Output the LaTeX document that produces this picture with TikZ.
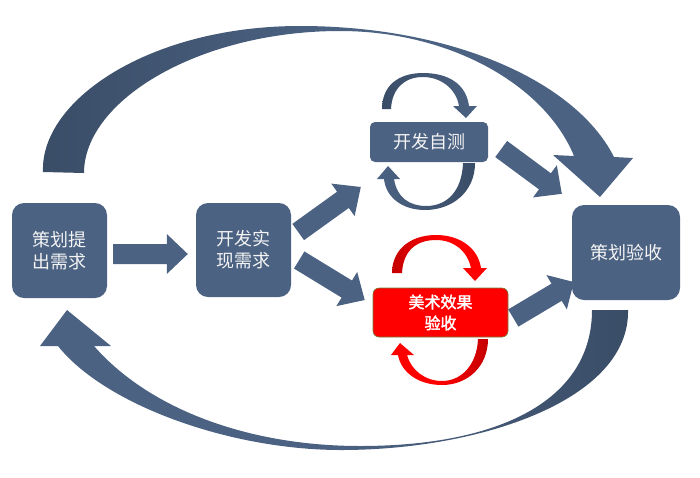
\documentclass[tikz,border=0pt]{standalone}
\usepackage{fontspec}
\setmainfont{Noto Sans CJK SC}[AutoFakeBold=2]
\usetikzlibrary{calc}
\definecolor{boxblue}{HTML}{4B6282}
\definecolor{darkblue}{HTML}{3A4D67}
\definecolor{txtwhite}{HTML}{F4F4F4}
\definecolor{redbox}{HTML}{FF0000}
\definecolor{darkred}{HTML}{C40000}
\definecolor{boxedge}{HTML}{76803C}
\newcommand\blkarrow[6][]{%
  \coordinate (bq) at ($(#3)!#6!(#2)$);
  \fill[#1] ($(#2)!#4!90:(#3)$) -- ($(bq)!#4!90:(#3)$) -- ($(bq)!#5!90:(#3)$) -- (#3)
    -- ($(bq)!#5!-90:(#3)$) -- ($(bq)!#4!-90:(#3)$) -- ($(#2)!#4!-90:(#3)$) -- cycle;}
\begin{document}
\begin{tikzpicture}[x=1pt, y=-1pt,
  box/.style={rounded corners=12pt, fill=boxblue, text=txtwhite,
    font=\fontsize{18}{22}\selectfont, align=center, inner sep=0pt},
  barrow/.style={fill=boxblue}]
\useasboundingbox (0,0) rectangle (700,477);

% big top curved arrow
\shade[left color=darkblue, right color=boxblue, middle color=boxblue]
 (43,172) .. controls (40,100) and (150,26) .. (300,26)
 .. controls (450,26) and (575,80) .. (614,157)
 -- (633,158) -- (600,197) -- (553,155) -- (574,156)
 .. controls (545,85) and (450,31) .. (340,31)
 .. controls (200,31) and (84,100) .. (84,173) -- cycle;

% big bottom curved arrow
\shade[left color=boxblue, right color=darkblue, middle color=boxblue]
 (628,310) .. controls (630,400) and (480,450) .. (341,450)
 .. controls (230,450) and (105,405) .. (58,346)
 -- (40,346) -- (67,310) -- (111,346) -- (94,346)
 .. controls (150,410) and (250,446) .. (360,446)
 .. controls (500,446) and (592,400) .. (592,310) -- cycle;

% loops around the self-test box
\shade[left color=darkblue, right color=boxblue]
 (382,109) .. controls (382,86) and (398,73) .. (423,73)
 .. controls (447,73) and (466,83) .. (469,106)
 -- (477,106) -- (466,118) -- (453,106) -- (459,106)
 .. controls (456,88) and (440,77) .. (423,77)
 .. controls (405,77) and (392,88) .. (391,109) -- cycle;
\shade[left color=boxblue, right color=darkblue]
 (475,163) .. controls (475,192) and (452,210) .. (425,210)
 .. controls (403,210) and (386,198) .. (384,179)
 -- (377,179) -- (388,166) -- (400,179) -- (394,179)
 .. controls (397,198) and (410,206) .. (426,206)
 .. controls (448,206) and (462,190) .. (463,163) -- cycle;

% red loops
\shade[left color=darkred, right color=redbox, middle color=redbox]
 (392,273) .. controls (392,250) and (410,235) .. (436,235)
 .. controls (460,235) and (478,248) .. (481,268)
 -- (487,268) -- (475,281) -- (463,268) -- (471,268)
 .. controls (467,250) and (453,240) .. (436,240)
 .. controls (415,240) and (403,252) .. (402,273) -- cycle;
\shade[left color=redbox, right color=darkred, middle color=redbox]
 (488,339) .. controls (488,366) and (468,385) .. (442,385)
 .. controls (418,385) and (401,372) .. (398,355)
 -- (391,355) -- (400,343) -- (414,355) -- (407,355)
 .. controls (411,370) and (425,381) .. (442,381)
 .. controls (462,381) and (477,364) .. (478,339) -- cycle;

% boxes
\node[box, minimum width=95pt, minimum height=95pt] (n1) at (59.5,250.5) {策划提\\出需求};
\node[box, minimum width=95pt, minimum height=94pt] (n2) at (243.5,250) {开发实\\现需求};
\node[box, minimum width=118pt, minimum height=40pt, rounded corners=5pt] (n3) at (429,142) {开发自测};
\node[box, minimum width=135pt, minimum height=49pt, rounded corners=6pt, fill=redbox,
  draw=boxedge, line width=0.6pt, text=white,
  font=\fontsize{16}{21}\selectfont\bfseries] (n4) at (440.5,312.5) {美术效果\\验收};
\node[box, minimum width=108pt, minimum height=95pt] (n5) at (626,252.5) {策划验收};

% straight block arrows
\coordinate (a12s) at ($(n1.east)+(6,3.5)$);
\coordinate (a12t) at ($(n2.west)+(-8,4)$);
\coordinate (a23s) at ($(n2.east)+(7,-18)$);
\coordinate (a23t) at ($(n3.west)+(-9,45)$);
\coordinate (a24s) at ($(n2.east)+(8,10)$);
\coordinate (a24t) at ($(n4.west)+(-8,-12.5)$);
\coordinate (a35s) at ($(n3.east)+(13,7)$);
\coordinate (a35t) at ($(n5.north west)+(-10,-11)$);
\coordinate (a45s) at ($(n4.east)+(5,5.5)$);
\coordinate (a45t) at ($(n5.west)+(2,29.5)$);
\blkarrow[barrow]{a12s}{a12t}{10pt}{20pt}{21pt}
\blkarrow[barrow]{a23s}{a23t}{10pt}{20pt}{22pt}
\blkarrow[barrow]{a24s}{a24t}{10pt}{20pt}{21pt}
\blkarrow[barrow]{a35s}{a35t}{10pt}{20pt}{21pt}
\blkarrow[barrow]{a45s}{a45t}{10pt}{20pt}{20pt}
\end{tikzpicture}
\end{document}
